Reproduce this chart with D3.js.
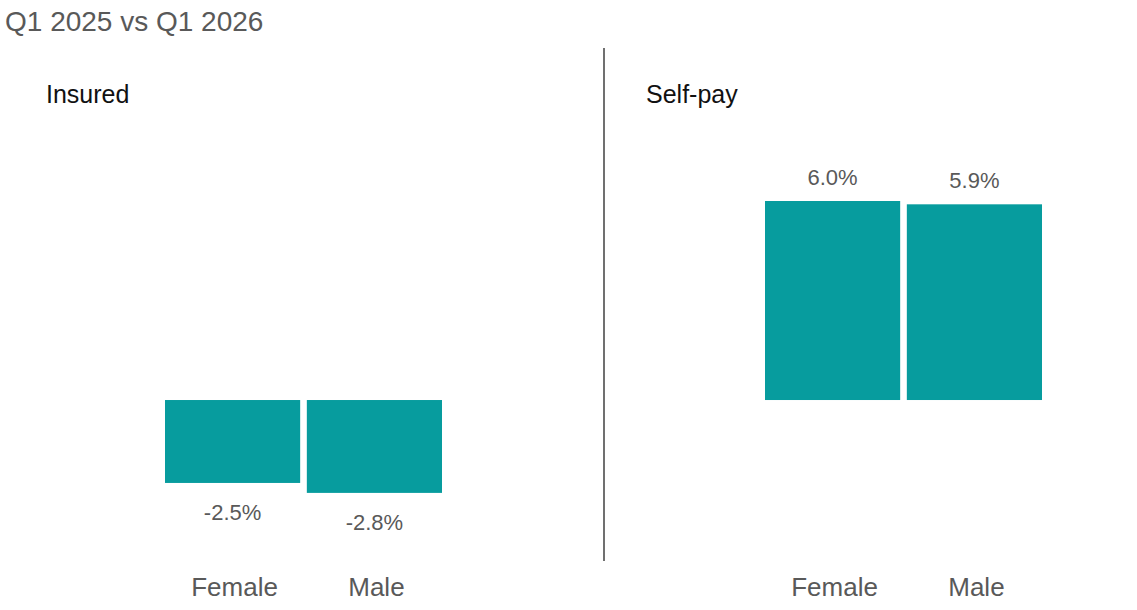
<!DOCTYPE html>
<html><head><meta charset="utf-8">
<script src="https://cdn.jsdelivr.net/npm/d3@7"></script>
<style>body{margin:0;background:#fff}text{font-family:"Liberation Sans",Arial,sans-serif}</style>
</head><body><svg id="c" width="1137" height="610"></svg>
<script>
const title = "Q1 2025 vs Q1 2026";
const panels = ["Insured", "Self-pay"];
const categories = ["Female", "Male"];
const insuredValues = [-2.5, -2.8];
const selfPayValues = [6.0, 5.9];
const valuesByPanel = [insuredValues, selfPayValues];

const svg = d3.select("#c");
const y = d3.scaleLinear().domain([-2.8, 6.0]).range([492.9, 201]);
const ranges = [[165, 442], [765, 1042]];
const titleX = [46, 646];
const color = "#079C9E";

svg.append("text").attr("x", 5).attr("y", 31).attr("font-size", 28).attr("fill", "#595959").text(title);
svg.append("line").attr("x1", 604).attr("x2", 604).attr("y1", 48).attr("y2", 561).attr("stroke", "#404040").attr("stroke-width", 1.5);

panels.forEach((p, i) => {
  const x = d3.scaleBand().domain(categories).range(ranges[i]).paddingInner(13 / 277);
  const g = svg.append("g");
  g.append("text").attr("x", titleX[i]).attr("y", 103).attr("font-size", 25).attr("fill", "#111").text(p);
  const vals = valuesByPanel[i];
  categories.forEach((c, j) => {
    const v = vals[j];
    g.append("rect").attr("x", x(c)).attr("width", x.bandwidth())
      .attr("y", Math.min(y(v), y(0))).attr("height", Math.abs(y(v) - y(0))).attr("fill", color);
    const cx = x(c) + x.bandwidth() / 2;
    g.append("text").attr("x", cx).attr("y", v >= 0 ? y(v) - 16 : y(v) + 37)
      .attr("text-anchor", "middle").attr("font-size", 22).attr("fill", "#595959")
      .text(v.toFixed(1) + "%");
    g.append("text").attr("x", cx + 2).attr("y", 596).attr("text-anchor", "middle")
      .attr("font-size", 26).attr("fill", "#595959").text(c);
  });
});
</script></body></html>
